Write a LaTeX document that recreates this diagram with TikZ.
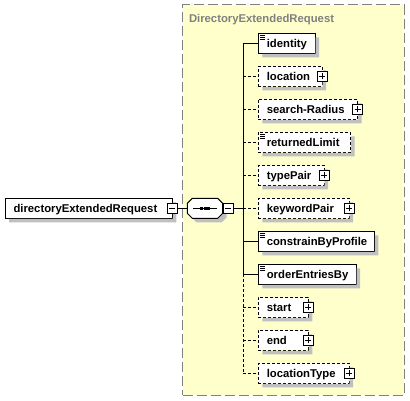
\documentclass[tikz,border=0pt]{standalone}
\usepackage{fontspec}
\setmainfont{Liberation Sans}
\definecolor{bgyellow}{RGB}{255,255,204}
\definecolor{bordergray}{RGB}{128,128,128}
\definecolor{shadowgray}{RGB}{192,192,192}
\tikzset{
  elembox/.style={draw=black,fill=white,rectangle,inner sep=0pt,outer sep=0pt,minimum height=20pt,anchor=north west},
  reqbox/.style={elembox,solid},
  optbox/.style={elembox,dash pattern=on 3pt off 2pt},
  lbl/.style={anchor=base west,inner sep=0pt,outer sep=0pt,font=\fontsize{11.3}{13}\selectfont\bfseries},
  pmbox/.style={draw=black,fill=white,solid,minimum size=10pt,inner sep=0pt,outer sep=0pt,rectangle},
  optline/.style={dash pattern=on 3pt off 2pt},
  shadowfill/.style={fill=shadowgray,draw=none},
}
% L-shaped shadow drawn after the box, right and below it
\newcommand{\shadowL}[1]{%
  \fill[shadowfill] ([shift={(0.5pt,-4pt)}]#1.north east) -- ([shift={(4pt,-4pt)}]#1.north east)
    -- ([shift={(4pt,-4pt)}]#1.south east) -- ([shift={(4pt,-4pt)}]#1.south west)
    -- ([shift={(4pt,-0.5pt)}]#1.south west) -- ([shift={(0.5pt,-0.5pt)}]#1.south east) -- cycle;}
\newcommand{\elemlabel}[2]{%
  \node[lbl] (#1-l) at ([xshift=8.5pt,yshift=-4pt]#1.west) {#2};}
\newcommand{\plusbox}[2]{%
  \node[pmbox] (#1) at (#2.east) {};
  \draw ([xshift=-3pt]#1.center) -- ([xshift=3pt]#1.center)
        ([yshift=-3pt]#1.center) -- ([yshift=3pt]#1.center);}
\newcommand{\minusline}[1]{%
  \draw ([xshift=-3pt]#1.center) -- ([xshift=3pt]#1.center);}
\newcommand{\simpleicon}[1]{%
  \draw ([xshift=2pt,yshift=-2pt]#1.north west) -- ++(5,0)
        ([xshift=2pt,yshift=-4pt]#1.north west) -- ++(5,0)
        ([xshift=2pt,yshift=-6pt]#1.north west) -- ++(5,0);}
\begin{document}
\begin{tikzpicture}[x=1pt,y=-1pt,line width=1pt]
\useasboundingbox[fill=white] (0,0) rectangle (410,401);

% complex type container
\node[draw=bordergray,fill=bgyellow,dash pattern=on 10pt off 4pt,rectangle,
      anchor=north west,minimum width=221.6pt,minimum height=390pt,
      inner sep=0pt,outer sep=0pt] (ctype) at (182.7,5) {};
\node[lbl,text=bordergray] (ctitle) at (189,23) {DirectoryExtendedRequest};

% root element
\node[reqbox,minimum width=167.3pt] (root) at (5,198.3) {};
\shadowL{root}
\elemlabel{root}{directoryExtendedRequest}
\node[pmbox] (rootm) at (root.east) {};
\minusline{rootm}

% sequence compositor
\node[rectangle,minimum width=35.4pt,minimum height=20pt,
      inner sep=0pt,outer sep=0pt] (seq) at (205,208.3) {};
\fill[white]
  ([xshift=5pt]seq.north west) -- ([xshift=-5pt]seq.north east)
  -- ([yshift=-5pt]seq.north east) -- ([yshift=5pt]seq.south east)
  -- ([xshift=-5pt]seq.south east) -- ([xshift=5pt]seq.south west)
  -- ([yshift=5pt]seq.south west) -- ([yshift=-5pt]seq.north west) -- cycle;
\fill[shadowfill] (222.7,203.3) -- (226.7,207.3) -- (226.7,217.3) -- (221.7,222.3)
  -- (196.3,222.3) -- (192.3,218.3) -- (217.7,218.3) -- (222.7,213.3) -- cycle;
\draw
  ([xshift=5pt]seq.north west) -- ([xshift=-5pt]seq.north east)
  -- ([yshift=-5pt]seq.north east) -- ([yshift=5pt]seq.south east)
  -- ([xshift=-5pt]seq.south east) -- ([xshift=5pt]seq.south west)
  -- ([yshift=5pt]seq.south west) -- ([yshift=-5pt]seq.north west) -- cycle;
\draw ([xshift=-12pt]seq.center) -- ([xshift=12pt]seq.center);
\fill ([xshift=-5.2pt,yshift=1.5pt]seq.center) rectangle ++(3,3);
\fill ([xshift=-1.5pt,yshift=1.5pt]seq.center) rectangle ++(3,3);
\fill ([xshift=2.2pt,yshift=1.5pt]seq.center) rectangle ++(3,3);
\node[pmbox] (seqm) at (228,208.3) {};
\minusline{seqm}
\draw (rootm.east) -- (seq.west);

% bus
\coordinate (bus) at (243.3,0);

% children
\node[reqbox,minimum width=56.7pt] (identity) at (258.3,33.3) {};
\shadowL{identity}
\elemlabel{identity}{identity}
\simpleicon{identity}

\node[optbox,minimum width=63.7pt] (location) at (258.3,66.3) {};
\shadowL{location}
\elemlabel{location}{location}
\plusbox{locationp}{location}

\node[optbox,minimum width=99.4pt] (searchRadius) at (258.3,99.3) {};
\shadowL{searchRadius}
\elemlabel{searchRadius}{search-Radius}
\plusbox{searchRadiusp}{searchRadius}

\node[optbox,minimum width=92.4pt] (returnedLimit) at (258.3,132.3) {};
\shadowL{returnedLimit}
\elemlabel{returnedLimit}{returnedLimit}
\simpleicon{returnedLimit}

\node[optbox,minimum width=65.7pt] (typePair) at (258.3,165.3) {};
\shadowL{typePair}
\elemlabel{typePair}{typePair}
\plusbox{typePairp}{typePair}

\node[optbox,minimum width=90.7pt] (keywordPair) at (258.3,198.3) {};
\shadowL{keywordPair}
\elemlabel{keywordPair}{keywordPair}
\plusbox{keywordPairp}{keywordPair}

\node[reqbox,minimum width=116pt] (constrainByProfile) at (258.3,231.3) {};
\shadowL{constrainByProfile}
\elemlabel{constrainByProfile}{constrainByProfile}
\simpleicon{constrainByProfile}

\node[reqbox,minimum width=97.7pt] (orderEntriesBy) at (258.3,264.3) {};
\shadowL{orderEntriesBy}
\elemlabel{orderEntriesBy}{orderEntriesBy}
\simpleicon{orderEntriesBy}

\node[optbox,minimum width=50pt] (start) at (258.3,297.3) {};
\shadowL{start}
\elemlabel{start}{start}
\plusbox{startp}{start}

\node[optbox,minimum width=50pt] (end) at (258.3,330.3) {};
\shadowL{end}
\elemlabel{end}{end}
\plusbox{endp}{end}

\node[optbox,minimum width=90.7pt] (locationType) at (258.3,363.3) {};
\shadowL{locationType}
\elemlabel{locationType}{locationType}
\plusbox{locationTypep}{locationType}

% connectors
\draw (seqm.east) -- (bus |- seqm.east);
\draw (bus |- identity.west) -- (bus |- orderEntriesBy.west);
\draw[optline] (bus |- orderEntriesBy.west) -- (bus |- locationType.west);
\draw (bus |- identity.west) -- (identity.west);
\draw[optline] (bus |- location.west) -- (location.west);
\draw[optline] (bus |- searchRadius.west) -- (searchRadius.west);
\draw[optline] (bus |- returnedLimit.west) -- (returnedLimit.west);
\draw[optline] (bus |- typePair.west) -- (typePair.west);
\draw[optline] (bus |- keywordPair.west) -- (keywordPair.west);
\draw (bus |- constrainByProfile.west) -- (constrainByProfile.west);
\draw (bus |- orderEntriesBy.west) -- (orderEntriesBy.west);
\draw[optline] (bus |- start.west) -- (start.west);
\draw[optline] (bus |- end.west) -- (end.west);
\draw[optline] (bus |- locationType.west) -- (locationType.west);
\end{tikzpicture}
\end{document}
